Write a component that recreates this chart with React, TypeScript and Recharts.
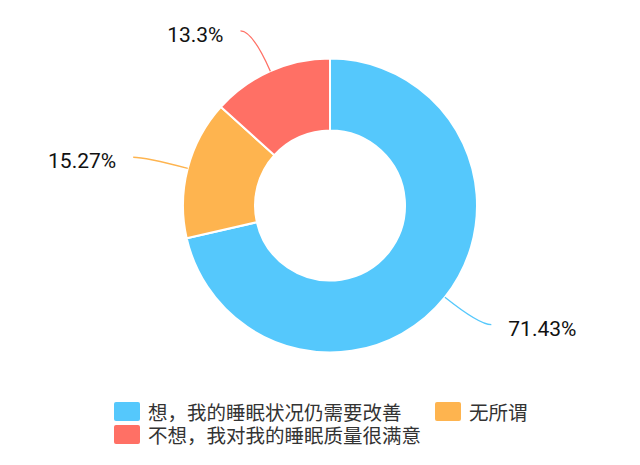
import { PieChart, Pie, Cell, Legend } from "recharts"

// ─── Data ────────────────────────────────────────────────────────────────────

const CATEGORIES = ["想，我的睡眠状况仍需要改善", "无所谓", "不想，我对我的睡眠质量很满意"]
const VALUES = [71.43, 15.27, 13.3]
const LABELS = ["71.43%", "15.27%", "13.3%"]
const COLORS = ["#55C8FC", "#FEB44F", "#FF7065"]

const DATA = CATEGORIES.map((name, i) => ({ name, value: VALUES[i], label: LABELS[i] }))

const RAD = Math.PI / 180

// ─── Label with bent leader line ─────────────────────────────────────────────

function SliceLabel(props: any) {
    const { cx, cy, midAngle, outerRadius, index } = props
    const cos = Math.cos(-midAngle * RAD)
    const sin = Math.sin(-midAngle * RAD)
    const x0 = cx + outerRadius * cos
    const y0 = cy + outerRadius * sin
    const x1 = x0 + 44 * cos
    const y1 = y0 + 44 * sin
    const dir = cos >= 0 ? 1 : -1
    const x2 = x1 + dir * 12
    const y2 = y1
    return (
        <g>
            <path
                d={`M${x0},${y0} Q${x1},${y1} ${x2},${y2}`}
                stroke={COLORS[index]}
                strokeWidth={1.3}
                fill="none"
            />
            <text
                x={x2 + dir * 17}
                y={y2 + 4}
                textAnchor={dir > 0 ? "start" : "end"}
                dominantBaseline="central"
                fontSize={21}
                fill="#111"
                fontFamily="Roboto, 'Noto Sans', sans-serif"
            >
                {LABELS[index]}
            </text>
        </g>
    )
}

// ─── Legend ──────────────────────────────────────────────────────────────────

const LEGEND_POS = [
    { left: 114, top: 402 },
    { left: 435, top: 402 },
    { left: 114, top: 425 },
]

function ChartLegend() {
    return (
        <div style={{ position: "relative", width: 640, height: 0 }}>
            {CATEGORIES.map((name, i) => (
                <div
                    key={name}
                    style={{
                        position: "absolute",
                        left: LEGEND_POS[i].left,
                        top: LEGEND_POS[i].top,
                        display: "flex",
                        alignItems: "center",
                        height: 19,
                        whiteSpace: "nowrap",
                    }}
                >
                    <span
                        style={{
                            width: 26,
                            height: 19,
                            borderRadius: 2,
                            background: COLORS[i],
                            marginRight: 8,
                            display: "inline-block",
                        }}
                    />
                    <span
                        style={{
                            fontSize: 19.5,
                            lineHeight: "19px",
                            color: "#333",
                            fontFamily: "'Noto Sans CJK SC', sans-serif",
                        }}
                    >
                        {name}
                    </span>
                </div>
            ))}
        </div>
    )
}

export default function App() {
    return (
        <div style={{ position: "fixed", left: 0, top: 0, width: 640, height: 465, background: "#fff" }}>
            <PieChart width={640} height={465} margin={{ top: 0, right: 0, bottom: 0, left: 0 }}>
                <Pie
                    data={DATA}
                    dataKey="value"
                    nameKey="name"
                    cx={330}
                    cy={205.5}
                    innerRadius={75}
                    outerRadius={147}
                    startAngle={90}
                    endAngle={-270}
                    stroke="#fff"
                    strokeWidth={2}
                    label={SliceLabel}
                    labelLine={false}
                    isAnimationActive={false}
                >
                    {DATA.map((d, i) => (
                        <Cell key={d.name} fill={COLORS[i]} />
                    ))}
                </Pie>
                <Legend
                    content={<ChartLegend />}
                    wrapperStyle={{ position: "absolute", left: 0, top: 0, width: 640, height: 0 }}
                />
            </PieChart>
        </div>
    )
}
